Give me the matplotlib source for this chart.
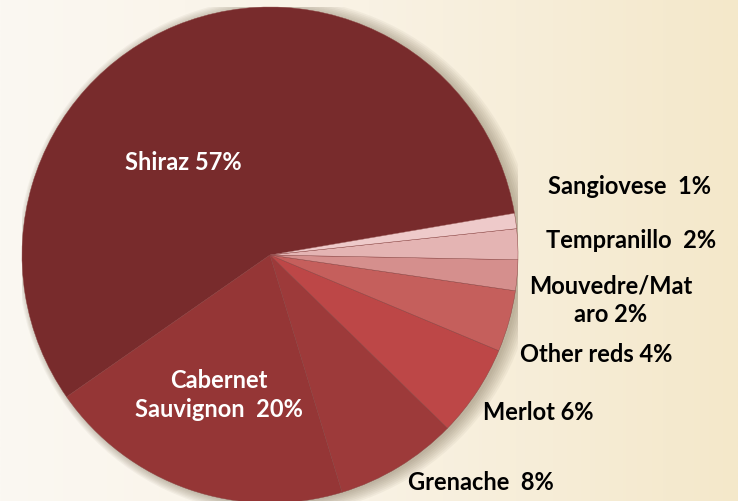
import matplotlib.pyplot as plt
import numpy as np
from matplotlib.patches import Circle
from matplotlib.colors import LinearSegmentedColormap

# wine varieties share
varieties = ['Shiraz', 'Cabernet\nSauvignon', 'Grenache', 'Merlot', 'Other reds',
             'Mouvedre/Mat\naro', 'Tempranillo', 'Sangiovese']
shares = [57, 20, 8, 6, 4, 2, 2, 1]
label_texts = ['Shiraz 57%', 'Cabernet\nSauvignon  20%', 'Grenache  8%', 'Merlot 6%',
               'Other reds 4%', 'Mouvedre/Mat\naro 2%', 'Tempranillo  2%', 'Sangiovese  1%']
colors = ['#782b2c', '#953636', '#9d3a3a', '#bd4747', '#c55f5c',
          '#d58f8d', '#e4b4b3', '#eecaca']

W, H = 738, 501
fig = plt.figure(figsize=(W / 100, H / 100), dpi=100)

# background gradient (parchment)
bg = fig.add_axes([0, 0, 1, 1])
grad = np.linspace(0, 1, 256).reshape(1, -1)
cmap = LinearSegmentedColormap.from_list('parch', ['#fbf8f2', '#f9f2e4', '#f4e8ca'])
bg.imshow(grad, aspect='auto', cmap=cmap, extent=[0, 1, 0, 1])
bg.axis('off')

cx, cy, r = 270, 255, 248
ax = fig.add_axes([(cx - r) / W, (H - cy - r) / H, 2 * r / W, 2 * r / H])
ax.set_xlim(-1, 1)
ax.set_ylim(-1, 1)
ax.set_aspect('equal')
ax.axis('off')

# soft shadow
for i in range(8):
    ax.add_patch(Circle((0.012 + i * 0.002, -0.006), 1.0 + i * 0.006,
                        color='#5a4a30', alpha=0.05, lw=0, zorder=0))

ax.pie(shares, colors=colors, startangle=9.7, counterclock=True, radius=1.0,
       wedgeprops=dict(linewidth=0.3, edgecolor='#8a4040'))
ax.set_xlim(-1, 1)
ax.set_ylim(-1, 1)

# label positions in pixels
pos = [(183, 162), (219, 395), (481, 482), (538, 412), (596, 355),
       (611, 300), (631, 240), (629, 187)]
for i, (t, (px, py)) in enumerate(zip(label_texts, pos)):
    c = 'white' if i < 2 else 'black'
    fig.text(px / W, 1 - py / H, t, ha='center', va='center', color=c,
             fontsize=17, fontweight='bold', family='Lato', linespacing=1.3)

fig.savefig('out.png', dpi=100)
